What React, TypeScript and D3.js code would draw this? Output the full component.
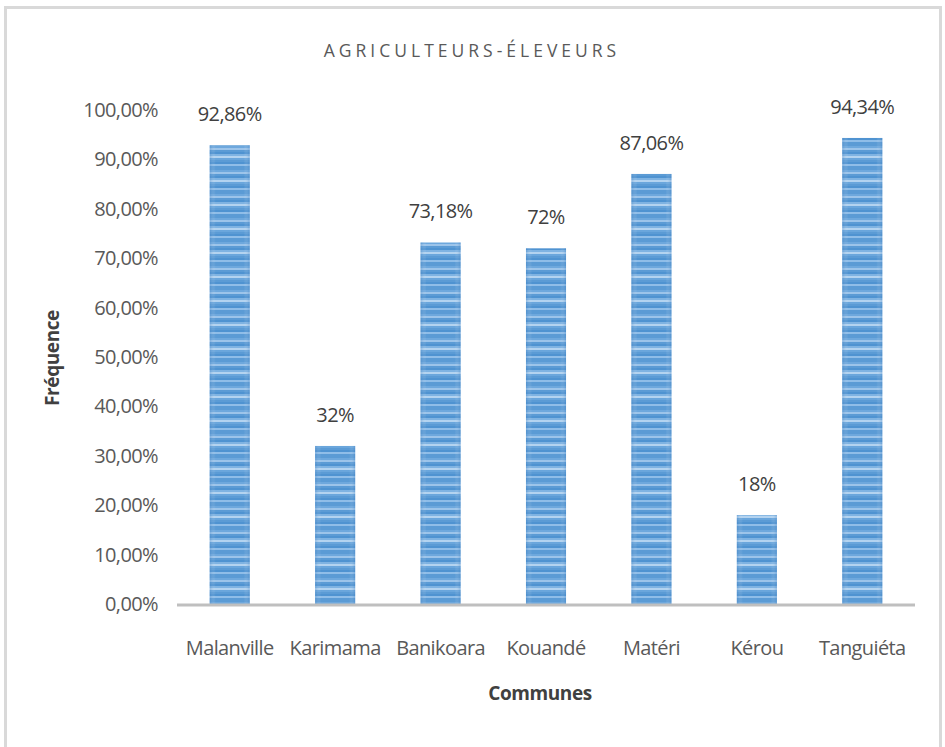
import React from "react";
import * as d3 from "d3";

const communes = ["Malanville", "Karimama", "Banikoara", "Kouandé", "Matéri", "Kérou", "Tanguiéta"];
const values = [92.86, 32, 73.18, 72, 87.06, 18, 94.34];
const valueLabels = ["92,86%", "32%", "73,18%", "72%", "87,06%", "18%", "94,34%"];
const yTicks = [0, 10, 20, 30, 40, 50, 60, 70, 80, 90, 100];

const W = 945;
const H = 747;
const FONT = "'Open Sans', Roboto, sans-serif";

export default function App() {
  const x = d3.scaleBand().domain(communes).range([177, 915]).paddingInner(0.62).paddingOuter(0.31);
  const y = d3.scaleLinear().domain([0, 100]).range([604, 110]);
  const fmt = (v: number) => v.toFixed(2).replace(".", ",") + "%";
  const stripes = [
    "#5b9bd5", "#6ea8dd", "#9cc4ea", "#5b9bd5", "#4f93d1", "#7fb3e2", "#b3d3f0", "#6aa6dc",
    "#5b9bd5", "#4f93d1", "#8fbde8", "#5b9bd5",
  ];
  return (
    <svg width={W} height={H} style={{ position: "absolute", left: 0, top: 0, background: "#fff" }}>
      <defs>
        <pattern id="stripe" patternUnits="userSpaceOnUse" width={60} height={24}>
          {stripes.map((c, i) => (
            <rect key={i} x={0} y={i * 2} width={60} height={2} fill={c} />
          ))}
        </pattern>
        <linearGradient id="edge" x1="0" x2="1" y1="0" y2="0">
          <stop offset="0" stopColor="#3f7fc0" stopOpacity={0.35} />
          <stop offset="0.15" stopColor="#ffffff" stopOpacity={0} />
          <stop offset="0.85" stopColor="#ffffff" stopOpacity={0} />
          <stop offset="1" stopColor="#3f7fc0" stopOpacity={0.35} />
        </linearGradient>
      </defs>
      <rect x={5.5} y={7.5} width={935} height={745} fill="#fff" stroke="#d9d9d9" strokeWidth={3} />
      <text x={472} y={57} textAnchor="middle" fontFamily={FONT} fontSize={17.5} fill="#595959" letterSpacing={4}>
        AGRICULTEURS-ÉLEVEURS
      </text>
      {yTicks.map((t) => (
        <text key={t} x={158} y={y(t)} dy="0.35em" textAnchor="end" fontFamily={FONT} fontSize={20} fill="#595959" letterSpacing={-0.6}>
          {fmt(t)}
        </text>
      ))}
      {communes.map((c, i) => (
        <g key={c}>
          <rect x={x(c)} y={y(values[i])} width={x.bandwidth()} height={y(0) - y(values[i])} fill="url(#stripe)" />
          <rect x={x(c)} y={y(values[i])} width={x.bandwidth()} height={y(0) - y(values[i])} fill="url(#edge)" />
          <text x={(x(c) as number) + x.bandwidth() / 2} y={y(values[i]) - 24} textAnchor="middle" fontFamily={FONT} fontSize={20} fill="#404040" letterSpacing={-0.6}>
            {valueLabels[i]}
          </text>
          <text x={(x(c) as number) + x.bandwidth() / 2} y={655} textAnchor="middle" fontFamily={FONT} fontSize={20} fill="#595959" letterSpacing={-0.6}>
            {c}
          </text>
        </g>
      ))}
      <line x1={177} x2={915} y1={y(0) + 1} y2={y(0) + 1} stroke="#bfbfbf" strokeWidth={3} />
      <text x={540} y={700} textAnchor="middle" fontFamily={FONT} fontSize={19} fontWeight="bold" fill="#404040" letterSpacing={-0.4}>
        Communes
      </text>
      <text transform="translate(59,358) rotate(-90)" textAnchor="middle" fontFamily={FONT} fontSize={19} fontWeight="bold" fill="#404040" letterSpacing={-0.4}>
        Fréquence
      </text>
    </svg>
  );
}
